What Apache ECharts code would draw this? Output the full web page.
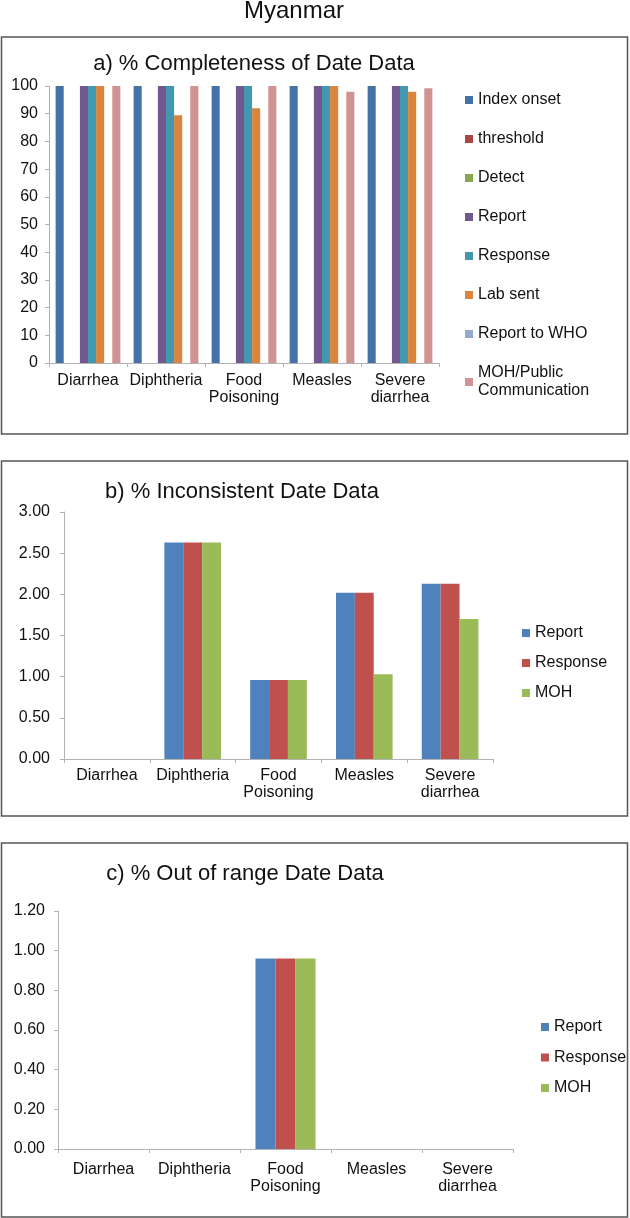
<!DOCTYPE html>
<html>
<head>
<meta charset="utf-8">
<title>Myanmar</title>
<script src="https://cdn.jsdelivr.net/npm/echarts@6/dist/echarts.min.js"></script>
<style>
  html, body { margin: 0; padding: 0; background: #ffffff; }
  #main { width: 630px; height: 1218px; }
</style>
</head>
<body>
<div id="main"></div>
<script>
  // 疾病类别
  var diseases = ['Diarrhea', 'Diphtheria', 'Food\nPoisoning', 'Measles', 'Severe\ndiarrhea'];

  // a) 完整度
  var completenessNames = ['Index onset', 'threshold', 'Detect', 'Report', 'Response', 'Lab sent', 'Report to WHO', 'MOH/Public\nCommunication'];
  var indexOnset = [100, 100, 100, 100, 100];
  var threshold = [0, 0, 0, 0, 0];
  var detect = [0, 0, 0, 0, 0];
  var reportA = [100, 100, 100, 100, 100];
  var responseA = [100, 100, 100, 100, 100];
  var labSent = [100, 89.4, 92, 100, 97.9];
  var reportToWho = [0, 0, 0, 0, 0];
  var mohPublic = [100, 100, 100, 97.9, 99.2];
  var completenessTicks = [0, 10, 20, 30, 40, 50, 60, 70, 80, 90, 100];

  // b) 不一致
  var inconsistentNames = ['Report', 'Response', 'MOH'];
  var reportB = [0, 2.63, 0.96, 2.02, 2.13];
  var responseB = [0, 2.63, 0.96, 2.02, 2.13];
  var mohB = [0, 2.63, 0.96, 1.03, 1.70];
  var inconsistentTicks = ['0.00', '0.50', '1.00', '1.50', '2.00', '2.50', '3.00'];

  // c) 超出范围
  var rangeNames = ['Report', 'Response', 'MOH'];
  var reportC = [0, 0, 0.96, 0, 0];
  var responseC = [0, 0, 0.96, 0, 0];
  var mohC = [0, 0, 0.96, 0, 0];
  var rangeTicks = ['0.00', '0.20', '0.40', '0.60', '0.80', '1.00', '1.20'];

  var font = "'Liberation Sans', Arial, sans-serif";
  var colorsA = ['#4572A7', '#AA4643', '#89A54E', '#71588F', '#4198AF', '#DB843D', '#93A9CF', '#D19392'];
  var colorsB = ['#4F81BD', '#C0504D', '#9BBB59'];
  var axisGray = '#B3B3B3';

  function xAxisOf(gridIndex, margin) {
    return {
      gridIndex: gridIndex,
      type: 'category',
      data: diseases,
      axisLine: { show: true, lineStyle: { color: axisGray, width: 1 } },
      axisTick: { show: true, length: 4, interval: 0, lineStyle: { color: axisGray } },
      axisLabel: { interval: 0, margin: margin, color: '#111', fontSize: 16, lineHeight: 17, fontFamily: font },
      splitLine: { show: false }
    };
  }

  function yAxisOf(gridIndex, ticks, margin, digits) {
    var step = Number(ticks[1]) - Number(ticks[0]);
    return {
      gridIndex: gridIndex,
      type: 'value',
      min: Number(ticks[0]),
      max: Number(ticks[ticks.length - 1]),
      interval: step,
      axisLine: { show: true, lineStyle: { color: axisGray, width: 1 } },
      axisTick: { show: true, length: 4, lineStyle: { color: axisGray } },
      axisLabel: {
        margin: margin, color: '#111', fontSize: 16, fontFamily: font,
        formatter: function (v) { return v.toFixed(digits); }
      },
      splitLine: { show: false }
    };
  }

  // 同名系列在不同面板里，加上后缀区分，图例里再去掉
  function barsOf(names, datas, colors, axisIndex, gap) {
    var list = [];
    for (var i = 0; i < names.length; i++) {
      list.push({
        name: names[i] + '#' + axisIndex,
        type: 'bar',
        xAxisIndex: axisIndex,
        yAxisIndex: axisIndex,
        data: datas[i],
        barGap: '0%',
        barCategoryGap: gap,
        itemStyle: { color: colors[i] },
        animation: false
      });
    }
    return list;
  }

  function legendOf(names, colors, axisIndex, left, top, gap) {
    var items = [];
    for (var i = 0; i < names.length; i++) {
      items.push({ name: names[i] + '#' + axisIndex, itemStyle: { color: colors[i] } });
    }
    return {
      orient: 'vertical',
      left: left,
      top: top,
      data: items,
      icon: 'rect',
      itemWidth: 8,
      itemHeight: 8,
      itemGap: gap,
      selectedMode: false,
      formatter: function (name) { return name.split('#')[0]; },
      textStyle: { fontSize: 16, lineHeight: 18, color: '#111', fontFamily: font }
    };
  }

  function panelBox(y, h) {
    return {
      type: 'rect',
      shape: { x: 1.5, y: y, width: 626, height: h },
      style: { fill: 'none', stroke: '#555', lineWidth: 1.5 },
      z: -1
    };
  }

  function label(text, x, y, size) {
    return {
      type: 'text',
      x: x,
      y: y,
      style: { text: text, fontSize: size, fontFamily: font, fill: '#111', align: 'center', verticalAlign: 'middle' }
    };
  }

  var series = []
    .concat(barsOf(completenessNames, [indexOnset, threshold, detect, reportA, responseA, labSent, reportToWho, mohPublic], colorsA, 0, '17%'))
    .concat(barsOf(inconsistentNames, [reportB, responseB, mohB], colorsB, 1, '34%'))
    .concat(barsOf(rangeNames, [reportC, responseC, mohC], colorsB, 2, '34%'));

  var option = {
    animation: false,
    textStyle: { fontFamily: font },
    grid: [
      { left: 49, top: 86, width: 390, height: 277 },
      { left: 64, top: 512, width: 429, height: 247 },
      { left: 58, top: 911, width: 455, height: 238 }
    ],
    xAxis: [xAxisOf(0, 9), xAxisOf(1, 8), xAxisOf(2, 12)],
    yAxis: [
      yAxisOf(0, completenessTicks, 11, 0),
      yAxisOf(1, inconsistentTicks, 14, 2),
      yAxisOf(2, rangeTicks, 13, 2)
    ],
    legend: [
      legendOf(completenessNames, colorsA, 0, 460, 86, 21),
      legendOf(inconsistentNames, colorsB, 1, 517, 619, 12),
      legendOf(rangeNames, colorsB, 2, 536, 1013, 12.5)
    ],
    graphic: [
      panelBox(37, 397),
      panelBox(461, 355),
      panelBox(843, 374),
      label('Myanmar', 294, 11, 24),
      label('a) % Completeness of Date Data', 254, 64, 22),
      label('b) % Inconsistent Date Data', 242, 492, 22),
      label('c) % Out of range Date Data', 245, 874, 22)
    ],
    series: series
  };

  var chart = echarts.init(document.getElementById('main'), null, { renderer: 'canvas' });
  chart.setOption(option);
</script>
</body>
</html>
